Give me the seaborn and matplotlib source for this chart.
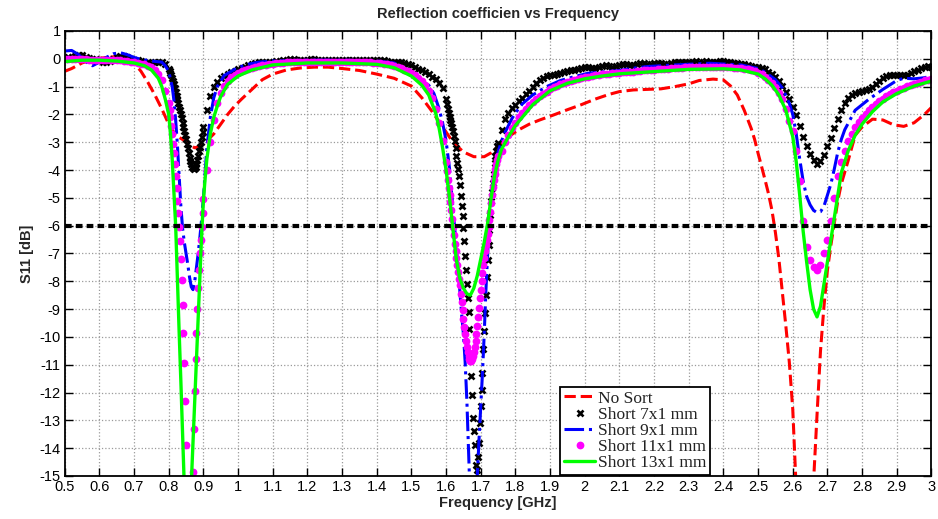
import numpy as np
import pandas as pd
import matplotlib
matplotlib.use("Agg")
import matplotlib.pyplot as plt
from matplotlib.ticker import FuncFormatter, MultipleLocator
import seaborn as sns

# --- Data ---
# sweep points of the two marker traces: 10 MHz where flat, 2.5 MHz inside the dips
sweep_segments = [(0.50, 0.80, 0.01), (0.8025, 0.90, 0.0025), (0.91, 1.60, 0.01),
                  (1.6025, 1.75, 0.0025), (1.76, 3.00, 0.01)]
sweep_freq = np.concatenate([np.linspace(a, b, int(round((b - a) / s)) + 1)
                             for a, b, s in sweep_segments])

# Short 7x1 mm (black x markers)
short7_db = [
    # 0.50 - 0.80
    0.0, 0.05, 0.08, 0.1, 0.12, 0.12, 0.08, 0.03, 0.0, -0.02,
    -0.05, -0.1, -0.12, -0.08, 0.0, 0.06, 0.1, 0.1, 0.06, 0.0,
    -0.04, -0.06, -0.08, -0.1, -0.13, -0.15, -0.12, -0.1, -0.12, -0.2,
    -0.35,
    # 0.8025 - 0.90
    -0.45, -0.52, -0.6, -0.7, -0.8, -0.92, -1.05, -1.18, -1.32, -1.45,
    -1.6, -1.72, -1.85, -1.98, -2.12, -2.3, -2.45, -2.6, -2.75, -2.9,
    -3.05, -3.22, -3.38, -3.55, -3.68, -3.8, -3.88, -3.94, -3.96, -3.94,
    -3.88, -3.78, -3.65, -3.48, -3.32, -3.16, -2.98, -2.8, -2.62, -2.44,
    # 0.91 - 1.60
    -1.85, -1.35, -1.02, -0.82, -0.7, -0.62, -0.55, -0.49, -0.43, -0.38,
    -0.33, -0.28, -0.24, -0.2, -0.16, -0.13, -0.11, -0.1, -0.1, -0.1,
    -0.09, -0.07, -0.05, -0.03, -0.02, -0.02, -0.03, -0.05, -0.05, -0.04,
    -0.02, -0.02, -0.03, -0.05, -0.06, -0.05, -0.03, -0.03, -0.04, -0.05,
    -0.05, -0.04, -0.03, -0.03, -0.04, -0.05, -0.05, -0.04, -0.03, -0.04,
    -0.05, -0.06, -0.08, -0.1, -0.1, -0.11, -0.13, -0.16, -0.2, -0.24,
    -0.3, -0.35, -0.4, -0.48, -0.56, -0.64, -0.74, -0.86, -1.05, -1.45,
    # 1.6025 - 1.75
    -1.62, -1.8, -1.95, -2.08, -2.2, -2.3, -2.45, -2.6,
    -2.78, -2.96, -3.2, -3.5, -3.75, -3.95, -4.2, -4.55,
    -4.95, -5.3, -5.65, -6.1, -6.55, -7.1, -7.6, -8.1,
    -8.6, -9.1, -9.7, -10.7, -11.4, -12.1, -12.9, -13.4,
    -13.9, -14.6, -15.2, -14.8, -14.3, -13.8, -13.1, -12.5,
    -11.9, -11.3, -10.45, -9.8, -9.15, -8.5, -7.85, -7.25,
    -6.7, -6.15, -5.6, -5.1, -4.8, -4.45, -4.15, -3.75,
    -3.5, -3.3, -3.15, -3.02,
    # 1.76 - 3.00
    -2.55, -2.15, -1.95, -1.78, -1.65, -1.52, -1.4, -1.26, -1.14, -1.0,
    -0.87, -0.76, -0.68, -0.63, -0.6, -0.58, -0.55, -0.5, -0.46, -0.44,
    -0.42, -0.4, -0.36, -0.32,
    -0.3, -0.3, -0.32, -0.33, -0.3, -0.26, -0.24, -0.25, -0.28, -0.27,
    -0.23, -0.2, -0.2, -0.23, -0.22, -0.18, -0.15, -0.15, -0.17, -0.18,
    -0.16, -0.14, -0.15, -0.17, -0.18, -0.16, -0.13, -0.12, -0.12, -0.13,
    -0.12, -0.1, -0.09, -0.1, -0.1, -0.09, -0.1, -0.11, -0.1, -0.09,
    -0.09, -0.1, -0.12, -0.14, -0.16, -0.18, -0.2, -0.22, -0.25, -0.28,
    -0.3, -0.33, -0.38, -0.46, -0.55, -0.66, -0.8, -0.98, -1.2, -1.45,
    -1.72, -2.02, -2.4, -2.8, -3.12, -3.42, -3.65, -3.78, -3.68, -3.45,
    -3.15, -2.85, -2.5, -2.15, -1.83, -1.58, -1.4, -1.3, -1.23, -1.2,
    -1.16, -1.12, -1.08, -1.0, -0.9, -0.8, -0.7, -0.62, -0.58, -0.57,
    -0.58, -0.6, -0.6, -0.58, -0.52, -0.45, -0.4, -0.34, -0.28, -0.25,
    -0.28,
]

# Short 11x1 mm (magenta dots)
short11_db = [
    # 0.50 - 0.80
    -0.02, -0.02, -0.01, 0.0, 0.0, -0.01, -0.02, -0.03, -0.03, -0.03,
    -0.03, -0.03, -0.03, -0.04, -0.04, -0.05, -0.06, -0.07, -0.08, -0.1,
    -0.12, -0.14, -0.17, -0.2, -0.25, -0.3, -0.4, -0.55, -0.78, -1.15,
    -1.6,
    # 0.8025 - 0.90
    -1.85, -2.1, -2.4, -2.7, -3.05, -3.4, -3.8, -4.2, -4.65, -5.1,
    -5.55, -6.05, -6.55, -7.2, -7.95, -8.85, -9.85, -10.95, -12.3, -13.9,
    -15.5, -17.0, -18.0, -18.4, -18.0, -17.0, -15.9, -14.85, -13.3, -11.95,
    -10.8, -9.85, -9.0, -8.25, -7.6, -7.0, -6.5, -6.05, -5.55, -5.05,
    # 0.91 - 1.60
    -4.0, -3.0, -2.2, -1.6, -1.22, -0.97, -0.8, -0.67, -0.57, -0.5,
    -0.45, -0.4, -0.36, -0.32, -0.29, -0.26, -0.23, -0.21, -0.19, -0.17,
    -0.16, -0.15, -0.14, -0.13, -0.12, -0.12, -0.11, -0.11, -0.1, -0.1,
    -0.1, -0.1, -0.1, -0.1, -0.1, -0.1, -0.1, -0.1, -0.1, -0.1,
    -0.1, -0.1, -0.1, -0.11, -0.11, -0.12, -0.12, -0.13, -0.14, -0.15,
    -0.16, -0.18, -0.2, -0.23, -0.26, -0.3, -0.34, -0.39, -0.45, -0.52,
    -0.6, -0.69, -0.8, -0.95, -1.15, -1.4, -1.8, -2.3, -2.95, -3.7,
    # 1.6025 - 1.75
    -4.05, -4.35, -4.65, -4.9, -5.15, -5.45, -5.75, -6.05,
    -6.35, -6.65, -6.9, -7.15, -7.4, -7.65, -7.9, -8.15,
    -8.45, -8.75, -9.05, -9.35, -9.65, -9.9, -10.15, -10.35,
    -10.55, -10.7, -10.8, -10.85, -10.85, -10.8, -10.7, -10.55,
    -10.35, -10.15, -9.9, -9.6, -9.3, -8.95, -8.6, -8.3,
    -8.0, -7.7, -7.4, -7.15, -6.9, -6.7, -6.5, -6.3,
    -6.05, -5.8, -5.5, -5.2, -4.9, -4.6, -4.35, -4.15,
    -3.95, -3.8, -3.65, -3.5,
    # 1.76 - 3.00
    -3.3, -3.0, -2.75, -2.5, -2.3, -2.1, -1.95, -1.8, -1.66, -1.55,
    -1.44, -1.35, -1.26, -1.18, -1.1, -1.03, -0.97, -0.92, -0.87, -0.83,
    -0.79, -0.75, -0.72, -0.69,
    -0.66, -0.64, -0.62, -0.6, -0.58, -0.56, -0.55, -0.53, -0.52, -0.51,
    -0.5, -0.49, -0.48, -0.47, -0.46, -0.45, -0.43, -0.42, -0.41, -0.4,
    -0.39, -0.38, -0.37, -0.36, -0.35, -0.34, -0.33, -0.32, -0.32, -0.31,
    -0.31, -0.3, -0.3, -0.3, -0.3, -0.3, -0.3, -0.3, -0.3, -0.3,
    -0.3, -0.31, -0.31, -0.32, -0.33, -0.34, -0.36, -0.38, -0.41, -0.45,
    -0.5, -0.56, -0.64, -0.75, -0.88, -1.03, -1.22, -1.45, -1.8, -2.25,
    -2.6, -3.3, -4.4, -5.85, -6.75, -7.25, -7.5, -7.6, -7.4, -7.0,
    -6.5, -5.85, -5.0, -4.2, -3.7, -3.3, -2.95, -2.7, -2.45, -2.28,
    -2.12, -1.98, -1.85, -1.73, -1.62, -1.52, -1.43, -1.35, -1.28, -1.21,
    -1.15, -1.09, -1.04, -0.99, -0.94, -0.9, -0.86, -0.82, -0.78, -0.75,
    -0.72,
]

# No Sort (red dashed)
nosort_freq = [0.50, 0.52, 0.55, 0.58, 0.60, 0.63, 0.65, 0.67, 0.69, 0.70,
               0.72, 0.74, 0.76, 0.78, 0.80, 0.82, 0.84, 0.86, 0.875, 0.89,
               0.91, 0.93, 0.95, 0.97, 0.99, 1.01, 1.04, 1.07, 1.10, 1.14,
               1.18, 1.22, 1.26, 1.30, 1.35, 1.40, 1.45, 1.50, 1.53, 1.56,
               1.59, 1.62, 1.65, 1.68, 1.71, 1.73, 1.75, 1.78, 1.81, 1.84,
               1.87, 1.91, 1.95, 1.99, 2.03, 2.07, 2.10, 2.14, 2.18, 2.22,
               2.26, 2.30, 2.33, 2.37, 2.40, 2.42, 2.44, 2.46, 2.48, 2.49,
               2.50, 2.51, 2.52, 2.53, 2.54, 2.55, 2.56, 2.57, 2.58, 2.59,
               2.60, 2.61, 2.62, 2.635, 2.65, 2.66, 2.67, 2.68, 2.69, 2.70,
               2.71, 2.72, 2.73, 2.74, 2.76, 2.78, 2.80, 2.83, 2.86, 2.89,
               2.92, 2.95, 2.98, 3.00]
nosort_db = [-0.45, -0.35, -0.15, -0.02, 0.02, 0.06, 0.08, 0.05, -0.05, -0.15,
             -0.45, -0.85, -1.3, -1.8, -2.35, -2.75, -2.9, -3.1, -3.2, -3.15,
             -2.95, -2.7, -2.35, -2.0, -1.7, -1.45, -1.1, -0.75, -0.55, -0.4,
             -0.33, -0.3, -0.3, -0.35, -0.42, -0.55, -0.7, -0.98, -1.4, -1.9,
             -2.45, -3.0, -3.35, -3.52, -3.52, -3.38, -3.15, -2.8, -2.55, -2.35,
             -2.2, -2.02, -1.83, -1.65, -1.45, -1.28, -1.18, -1.12, -1.1, -1.08,
             -1.0, -0.9, -0.78, -0.73, -0.76, -0.97, -1.3, -1.85, -2.5, -2.9,
             -3.4, -3.87, -4.35, -4.85, -5.45, -6.25, -7.2, -8.4, -9.6, -10.9,
             -12.6, -15.5, -17.5, -18.5, -17.5, -15.2, -12.8, -10.5, -8.9, -7.6,
             -6.7, -5.9, -5.1, -4.5, -3.65, -2.75, -2.45, -2.17, -2.2, -2.37,
             -2.43, -2.3, -2.0, -1.75]

# Short 9x1 mm (blue dash-dot)
short9_freq = [0.50, 0.52, 0.54, 0.56, 0.58, 0.60, 0.62, 0.64, 0.66, 0.68,
               0.70, 0.72, 0.75, 0.78, 0.79, 0.80, 0.81, 0.815, 0.82, 0.825,
               0.83, 0.835, 0.84, 0.845, 0.85, 0.855, 0.86, 0.865, 0.87, 0.875,
               0.88, 0.885, 0.89, 0.895, 0.90, 0.905, 0.91, 0.92, 0.93, 0.94,
               0.96, 0.99, 1.02, 1.06, 1.10, 1.20, 1.30, 1.40, 1.45, 1.47,
               1.50, 1.53, 1.55, 1.565, 1.58, 1.59, 1.60, 1.61, 1.615, 1.62,
               1.625, 1.63, 1.635, 1.64, 1.645, 1.65, 1.655, 1.66, 1.665, 1.67,
               1.675, 1.68, 1.685, 1.69, 1.695, 1.70, 1.705, 1.71, 1.715, 1.72,
               1.725, 1.73, 1.735, 1.74, 1.75, 1.76, 1.77, 1.79, 1.80, 1.82,
               1.85, 1.89, 1.93, 1.97, 2.01, 2.06, 2.10, 2.14, 2.18, 2.26,
               2.36, 2.45, 2.50, 2.52, 2.55, 2.57, 2.59, 2.60, 2.61, 2.62,
               2.63, 2.64, 2.65, 2.66, 2.67, 2.68, 2.69, 2.70, 2.71, 2.72,
               2.73, 2.74, 2.75, 2.78, 2.82, 2.86, 2.90, 2.92, 2.95, 2.98,
               3.00]
short9_db = [0.28, 0.3, 0.15, -0.1, -0.25, -0.12, 0.05, 0.18, 0.22, 0.15,
             0.05, -0.02, -0.08, -0.12, -0.25, -0.45, -1.0, -1.5, -2.2, -3.1,
             -4.2, -5.3, -6.1, -6.6, -7.0, -7.4, -7.85, -8.2, -8.3, -8.0,
             -7.5, -7.0, -6.4, -5.75, -5.0, -4.1, -3.2, -2.1, -1.4, -1.0,
             -0.6, -0.38, -0.22, -0.12, -0.08, -0.05, -0.05, -0.08, -0.15, -0.3,
             -0.5, -0.75, -0.95, -1.25, -1.8, -2.3, -2.95, -3.95, -4.7, -5.4,
             -6.1, -6.9, -7.5, -8.4, -9.2, -9.9, -10.9, -12.3, -14.2, -16.0,
             -17.5, -18.0, -17.0, -15.0, -13.7, -12.5, -11.3, -9.9, -8.3, -7.0,
             -5.8, -5.0, -4.5, -4.1, -3.35, -2.95, -2.65, -2.15, -1.95, -1.62,
             -1.3, -1.0, -0.78, -0.64, -0.52, -0.46, -0.42, -0.34, -0.28, -0.22,
             -0.16, -0.22, -0.35, -0.48, -0.75, -1.05, -1.6, -2.0, -2.7, -3.6,
             -4.4, -4.95, -5.25, -5.45, -5.53, -5.5, -5.3, -4.9, -4.5, -3.95,
             -3.35, -2.9, -2.55, -1.85, -1.45, -1.1, -0.78, -0.7, -0.72, -0.68,
             -0.62]

# Short 13x1 mm (green solid)
short13_freq = [0.50, 0.55, 0.60, 0.65, 0.70, 0.73, 0.75, 0.77, 0.78, 0.79,
                0.80, 0.805, 0.81, 0.815, 0.82, 0.825, 0.83, 0.835, 0.84, 0.845,
                0.85, 0.855, 0.86, 0.865, 0.87, 0.875, 0.88, 0.885, 0.89, 0.895,
                0.90, 0.905, 0.91, 0.92, 0.93, 0.94, 0.95, 0.97, 1.00, 1.04,
                1.10, 1.20, 1.30, 1.40, 1.45, 1.50, 1.53, 1.55, 1.57, 1.58,
                1.59, 1.60, 1.61, 1.62, 1.63, 1.64, 1.65, 1.66, 1.67, 1.68,
                1.69, 1.70, 1.71, 1.72, 1.73, 1.74, 1.75, 1.76, 1.78, 1.80,
                1.83, 1.85, 1.90, 1.95, 2.00, 2.05, 2.10, 2.20, 2.30, 2.40,
                2.45, 2.50, 2.52, 2.54, 2.56, 2.58, 2.60, 2.61, 2.62, 2.63,
                2.64, 2.65, 2.66, 2.67, 2.68, 2.69, 2.70, 2.71, 2.72, 2.73,
                2.74, 2.76, 2.78, 2.80, 2.83, 2.86, 2.90, 2.95, 3.00]
short13_db = [-0.1, -0.05, -0.05, -0.08, -0.15, -0.25, -0.4, -0.7, -1.0, -1.45,
              -2.0, -2.7, -3.6, -4.8, -6.0, -7.9, -9.8, -11.6, -13.5, -15.4,
              -17.2, -18.0, -17.5, -15.3, -13.8, -12.3, -10.8, -9.3, -7.8, -6.3,
              -5.1, -4.3, -3.6, -2.7, -2.1, -1.7, -1.35, -0.92, -0.62, -0.4,
              -0.22, -0.15, -0.15, -0.2, -0.32, -0.62, -0.95, -1.3, -1.95, -2.5,
              -3.2, -4.0, -5.0, -6.15, -7.25, -7.9, -8.25, -8.45, -8.5, -8.25,
              -7.8, -7.2, -6.6, -5.9, -5.0, -4.2, -3.65, -3.25, -2.8, -2.4,
              -1.95, -1.65, -1.15, -0.88, -0.72, -0.62, -0.54, -0.46, -0.38, -0.36,
              -0.4, -0.55, -0.72, -0.95, -1.3, -1.85, -2.8, -3.7, -4.9, -6.2,
              -7.3, -8.3, -9.0, -9.28, -8.9, -8.1, -7.3, -6.5, -5.7, -4.9,
              -4.1, -3.3, -2.75, -2.35, -1.9, -1.55, -1.25, -0.98, -0.8]

threshold_db = -6

assert len(short7_db) == len(sweep_freq)
assert len(short11_db) == len(sweep_freq)
assert len(nosort_freq) == len(nosort_db)
assert len(short9_freq) == len(short9_db)
assert len(short13_freq) == len(short13_db)

# --- Style ---
sns.set_style("ticks", {"xtick.direction": "in", "ytick.direction": "in"})
plt.rcParams['font.family'] = ['Liberation Sans', 'DejaVu Sans']

fig = plt.figure(figsize=(9.38, 5.19), dpi=100)
ax = fig.add_axes([0.069, 0.0829, 0.924, 0.8574])

sns.lineplot(x=nosort_freq, y=nosort_db, ax=ax, color='#ff0000', lw=2.2,
             linestyle='--', label='No Sort', sort=False)
sns.lineplot(x=sweep_freq, y=short7_db, ax=ax, color='black', linestyle='none',
             marker='x', markersize=5, markeredgewidth=1.9, markeredgecolor='black',
             label='Short 7x1 mm', sort=False)
sns.lineplot(x=short9_freq, y=short9_db, ax=ax, color='#0000ff', lw=2.2,
             linestyle='-.', label='Short 9x1 mm', sort=False)
sns.lineplot(x=sweep_freq, y=short11_db, ax=ax, color='#ff00ff', linestyle='none',
             marker='o', markersize=5.6, markeredgewidth=0, markerfacecolor='#ff00ff',
             label='Short 11x1 mm', sort=False)
sns.lineplot(x=short13_freq, y=short13_db, ax=ax, color='#00ff00', lw=2.4,
             linestyle='-', label='Short 13x1 mm', sort=False)
ax.axhline(threshold_db, color='black', lw=3, linestyle=(0, (1.6, 1.0)), zorder=5)

ax.set_xlim(0.5, 3)
ax.set_ylim(-15, 1)
ax.xaxis.set_major_locator(MultipleLocator(0.1))
ax.yaxis.set_major_locator(MultipleLocator(1))
ax.xaxis.set_major_formatter(FuncFormatter(lambda v, p: f"{v:g}"))
ax.yaxis.set_major_formatter(FuncFormatter(lambda v, p: f"{v:g}"))
ax.tick_params(which='both', direction='in', top=True, right=True, length=6,
               width=1, labelsize=10.5, pad=3, colors='black')
ax.grid(True, linestyle=':', color='#9a9a9a', lw=0.9)
for s in ax.spines.values():
    s.set_color('black')
    s.set_linewidth(1.3)

ax.set_title('Reflection coefficien vs Frequency', fontsize=10.5, fontweight='bold', pad=9)
ax.set_xlabel('Frequency [GHz]', fontsize=10.5, fontweight='bold', labelpad=1)
ax.set_ylabel('S11 [dB]', fontsize=10.5, fontweight='bold', labelpad=4)

leg = ax.legend(loc='lower left', bbox_to_anchor=(0.572, 0.003), frameon=True, fancybox=False,
                framealpha=1, edgecolor='black', borderpad=0.2, labelspacing=0.0,
                handlelength=1.8, handletextpad=0.15, borderaxespad=0,
                prop={'family': ['Liberation Serif'], 'size': 12.5})
leg.get_frame().set_linewidth(1.3)
for t in leg.get_texts():
    t.set_color('#222222')

fig.savefig('out.png', dpi=100)
